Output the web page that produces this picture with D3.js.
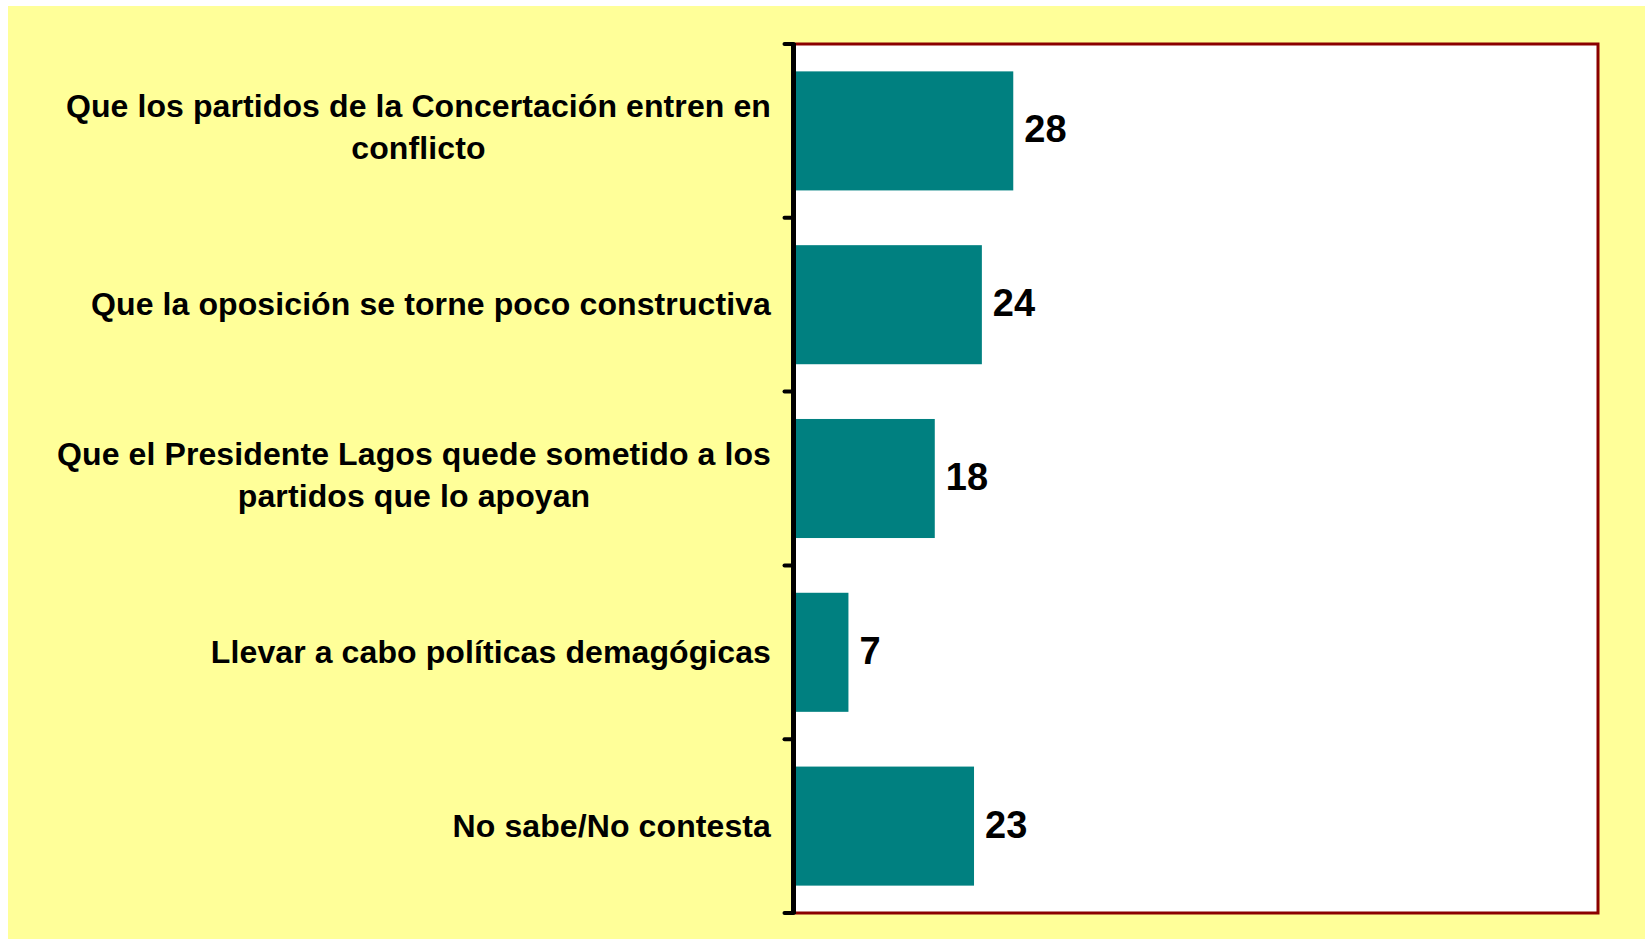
<!DOCTYPE html>
<html>
<head>
<meta charset="utf-8">
<script src="https://cdn.jsdelivr.net/npm/d3@7"></script>
<style>
    html, body { margin: 0; padding: 0; background: #ffffff; }
    svg { display: block; }
</style>
</head>
<body>
<svg id="chart" width="1645" height="943"></svg>
<script>
// categories (each one split in the lines it is written on)
var categories = [
    ['Que los partidos de la Concertación entren en', 'conflicto'],
    ['Que la oposición se torne poco constructiva'],
    ['Que el Presidente Lagos quede sometido a los', 'partidos que lo apoyan'],
    ['Llevar a cabo políticas demagógicas'],
    ['No sabe/No contesta']
];
var values = [28, 24, 18, 7, 23];
var valueLabels = ['28', '24', '18', '7', '23'];

(function () {

    var width = 1645, height = 943;
    var plot = {left: 793.5, right: 1598, top: 44, bottom: 913};

    var svg = d3.select('#chart');

    //background
    svg.append('rect')
        .attr('x', 8).attr('y', 6)
        .attr('width', width - 8).attr('height', 933)
        .attr('fill', '#ffff99');

    svg.append('rect')
        .attr('x', plot.left).attr('y', plot.top)
        .attr('width', plot.right - plot.left).attr('height', plot.bottom - plot.top)
        .attr('fill', '#ffffff');

    var x = d3.scaleLinear()
        .domain([0, 102.5])
        .range([plot.left, plot.right]);

    var y = d3.scaleBand()
        .domain(d3.range(categories.length))
        .range([plot.top, plot.bottom])
        .paddingInner(0.315)
        .paddingOuter(0.1575);

    drawBars(svg, x, y);
    drawFrame(svg, plot);
    drawAxis(svg, y, plot);
    drawCategoryLabels(svg, y);

    function drawBars(svg, x, y){
        var g = svg.append('g').attr('class', 'bars');

        g.selectAll('rect').data(values)
            .enter()
            .append('rect')
            .attr('x', x(0))
            .attr('y', function(d, i){return y(i);})
            .attr('width', function(d){return x(d) - x(0);})
            .attr('height', y.bandwidth())
            .attr('fill', '#008080');

        g.selectAll('text').data(values)
            .enter()
            .append('text')
            .attr('x', function(d){return x(d) + 11;})
            .attr('y', function(d, i){return y(i) + y.bandwidth() / 2 + 11.5;})
            .attr('font-family', "'Liberation Sans', Arial, sans-serif")
            .attr('font-weight', 'bold')
            .attr('font-size', 38)
            .attr('fill', '#000')
            .text(function(d, i){return valueLabels[i];});
    }

    function drawFrame(svg, plot){
        var path = d3.path();
        path.moveTo(plot.left, plot.top);
        path.lineTo(plot.right, plot.top);
        path.lineTo(plot.right, plot.bottom);
        path.lineTo(plot.left, plot.bottom);

        svg.append('path')
            .attr('d', path.toString())
            .attr('fill', 'none')
            .attr('stroke', '#8b0000')
            .attr('stroke-width', 3);
    }

    function drawAxis(svg, y, plot){
        //ticks sit on the band boundaries
        var boundaries = d3.range(categories.length + 1).map(function(i){
            return plot.top + i * y.step();
        });

        var g = svg.append('g').attr('class', 'axis');

        g.selectAll('line.tick').data(boundaries)
            .enter()
            .append('line')
            .attr('class', 'tick')
            .attr('x1', plot.left - 9).attr('x2', plot.left)
            .attr('y1', function(d){return d;})
            .attr('y2', function(d){return d;})
            .attr('stroke', '#000')
            .attr('stroke-width', 4)
            .attr('stroke-linecap', 'round');

        g.append('line')
            .attr('x1', plot.left).attr('x2', plot.left)
            .attr('y1', plot.top - 1).attr('y2', plot.bottom + 1)
            .attr('stroke', '#000')
            .attr('stroke-width', 5);
    }

    function drawCategoryLabels(svg, y){
        var rightEdge = 771;
        var lineGap = 42;

        categories.forEach(function(lines, i){
            var cy = y(i) + y.bandwidth() / 2;
            var g = svg.append('g').attr('class', 'category');

            var texts = g.selectAll('text').data(lines)
                .enter()
                .append('text')
                .attr('font-family', "'Liberation Sans', Arial, sans-serif")
                .attr('font-weight', 'bold')
                .attr('font-size', 32)
                .attr('letter-spacing', 0.1)
                .attr('fill', '#000')
                .attr('text-anchor', 'middle')
                .text(function(d){return d;});

            //block is right aligned, lines centred inside it
            var widest = d3.max(texts.nodes(), function(n){return n.getComputedTextLength();});
            var shift = lines.length > 1 ? -4 : -1;
            var first = cy - (lines.length - 1) * lineGap / 2 + shift;

            texts
                .attr('x', rightEdge - widest / 2)
                .attr('y', function(d, j){return first + j * lineGap + 11.5;});
        });
    }

}());
</script>
</body>
</html>
